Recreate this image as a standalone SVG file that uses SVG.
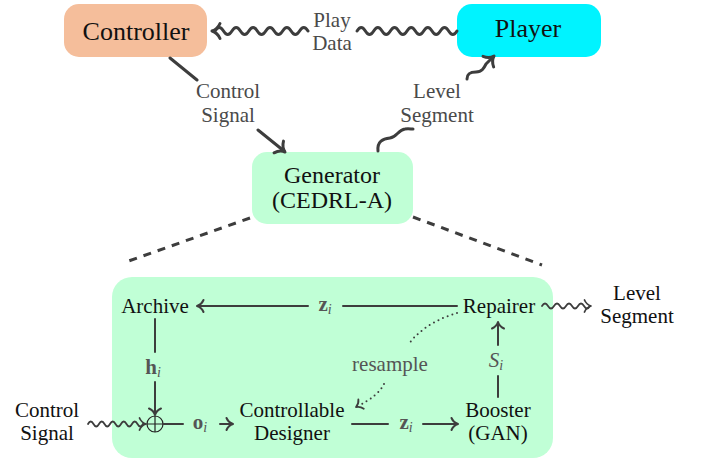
<svg xmlns="http://www.w3.org/2000/svg" width="705" height="460" viewBox="0 0 705 460" font-family="'Liberation Serif', 'DejaVu Serif', serif">
  <style>
    text { font-family: 'Liberation Serif', 'Times New Roman', 'DejaVu Serif', serif; text-anchor: middle; }
    .node { fill: #111111; font-size: 21px; }
    .big { font-size: 26px; }
    .gen { font-size: 24px; }
    .lbl { fill: #4a4a4a; font-size: 21px; }
    .math { fill: #555555; font-size: 21px; }
    .b { font-weight: bold; }
    .sub { font-style: italic; font-size: 14px; }
    .edge { fill: none; stroke: #3d3d3d; stroke-width: 3; stroke-linecap: round; stroke-linejoin: round; }
    .thin { fill: none; stroke: #3d3d3d; stroke-width: 2; stroke-linecap: round; stroke-linejoin: round; }
    .wave { fill: none; stroke: #3d3d3d; stroke-width: 1.8; stroke-linecap: round; }
    .dash { fill: none; stroke: #3d3d3d; stroke-width: 3; stroke-dasharray: 8 7; }
    .dot { fill: none; stroke: #3d3d3d; stroke-width: 2; stroke-linecap: round; stroke-dasharray: 0 5; }
    .mint { fill: #c0ffd6; }
  </style>
  <defs>
    <path id="ah" d="M-8,-7.5 C-6,-3 -2,-0.6 0,0 C-2,0.6 -6,3 -8,7.5" fill="none" stroke-linecap="round" stroke-linejoin="round"/>
    <path id="ahs" d="M-6.5,-6 C-5,-2.5 -1.5,-0.5 0,0 C-1.5,0.5 -5,2.5 -6.5,6" fill="none" stroke-linecap="round" stroke-linejoin="round"/>
  </defs>

  <!-- detail panel -->
  <g id="detail-panel">
    <rect class="mint" x="112" y="277" width="441" height="181" rx="20"/>
  </g>

  <g id="controller">
    <rect x="64" y="4" width="143" height="53" rx="15" fill="#f5be9b"/>
    <text class="node big" x="136" y="40">Controller</text>
  </g>
  <g id="player">
    <rect x="457" y="4" width="144" height="53" rx="15" fill="#00f3ff"/>
    <text class="node big" x="528" y="37">Player</text>
  </g>
  <g id="generator">
    <rect class="mint" x="252" y="152" width="161" height="72" rx="15"/>
    <text class="node gen" x="332" y="182.5">Generator</text>
    <text class="node gen" x="332" y="207.5">(CEDRL-A)</text>
  </g>

  <g id="archive"><text class="node" x="155" y="313">Archive</text></g>
  <g id="repairer"><text class="node" x="499" y="313">Repairer</text></g>
  <g id="oplus">
    <circle cx="155" cy="424" r="8" fill="none" stroke="#222" stroke-width="1.2"/>
    <path d="M147,424 H163 M155,416 V432" stroke="#222" stroke-width="1.2"/>
  </g>
  <g id="designer">
    <text class="node" x="292" y="417">Controllable</text>
    <text class="node" x="292" y="440">Designer</text>
  </g>
  <g id="booster">
    <text class="node" x="498" y="417">Booster</text>
    <text class="node" x="498" y="440">(GAN)</text>
  </g>
  <g id="control-signal-in">
    <text class="node" x="47" y="417">Control</text>
    <text class="node" x="47" y="440">Signal</text>
  </g>
  <g id="level-segment-out">
    <text class="node" x="637" y="300">Level</text>
    <text class="node" x="637" y="323">Segment</text>
  </g>

  <g id="connectors">
    <!-- Player -> Controller : Play Data -->
    <path class="edge" d="M457,31 q-4.17,7 -8.33,0 t-8.33,0 t-8.33,0 t-8.33,0 t-8.33,0 t-8.33,0 t-8.33,0 t-8.33,0 t-8.33,0 t-8.33,0 t-8.33,0 t-8.33,0"/>
    <path class="edge" d="M308,31 q-4.22,-7 -8.45,0 t-8.45,0 t-8.45,0 t-8.45,0 t-8.45,0 t-8.45,0 t-8.45,0 t-8.45,0 t-8.45,0 t-8.45,0 t-8.45,0"/>
    <use href="#ah" class="edge" transform="translate(212,31) rotate(180)"/>
    <text class="lbl" x="332" y="27">Play</text>
    <text class="lbl" x="332" y="50">Data</text>

    <!-- Controller -> Generator : Control Signal -->
    <path class="edge" d="M170,58 L197,80 M258,130 L284,151"/>
    <use href="#ah" class="edge" transform="translate(285,152) rotate(39)"/>
    <text class="lbl" x="228" y="98">Control</text>
    <text class="lbl" x="228" y="122">Signal</text>

    <!-- Generator -> Player : Level Segment -->
    <path class="edge" d="M378,151 C377,141 383,139 390,138 C397,137 398,130 405,129 C408,128.5 411,129 413,129"/>
    <path class="edge" d="M467,79 C467,73 471,72 476,72 C482,72 484,68 486,64 L493,57"/>
    <use href="#ah" class="edge" transform="translate(494,56) rotate(-45)"/>
    <text class="lbl" x="437" y="98">Level</text>
    <text class="lbl" x="437" y="122">Segment</text>

    <!-- zoom dashed lines -->
    <path class="dash" d="M250,218 L123,263"/>
    <path class="dash" d="M413,217 L542,265"/>

    <!-- Repairer -> Archive : z_i -->
    <path class="thin" d="M457,306 L343,306 M308,306 L198,306"/>
    <use href="#ahs" class="thin" transform="translate(197,306) rotate(180)"/>
    <text class="math" x="325" y="311"><tspan class="b">z</tspan><tspan class="sub" dy="3">i</tspan></text>

    <!-- Archive -> oplus : h_i -->
    <path class="thin" d="M155,319 L155,352 M155,382 L155,414"/>
    <use href="#ahs" class="thin" transform="translate(155,415) rotate(90)"/>
    <text class="math" x="153" y="374"><tspan class="b">h</tspan><tspan class="sub" dy="3">i</tspan></text>

    <!-- Control Signal -> oplus -->
    <path class="wave" d="M88,424 q2.75,-5 5.5,0 t5.5,0 t5.5,0 t5.5,0 t5.5,0 t5.5,0 t5.5,0 t5.5,0 t5.5,0 t5.5,0 l2.5,0"/>
    <use href="#ahs" class="wave" transform="translate(146,424)"/>

    <!-- oplus -> Designer : o_i -->
    <path class="thin" d="M163,424 L183,424 M220,424 L232,424"/>
    <use href="#ahs" class="thin" transform="translate(233,424)"/>
    <text class="math" x="200" y="429"><tspan class="b">o</tspan><tspan class="sub" dy="3">i</tspan></text>

    <!-- Designer -> Booster : z_i -->
    <path class="thin" d="M352,424 L388,424 M423,424 L457,424"/>
    <use href="#ahs" class="thin" transform="translate(458,424)"/>
    <text class="math" x="406" y="429"><tspan class="b">z</tspan><tspan class="sub" dy="3">i</tspan></text>

    <!-- Booster -> Repairer : S_i -->
    <path class="thin" d="M498,397 L498,376 M498,345 L498,323"/>
    <use href="#ahs" class="thin" transform="translate(498,322) rotate(-90)"/>
    <text class="math" x="496" y="367"><tspan font-style="italic">S</tspan><tspan class="sub" dy="3">i</tspan></text>

    <!-- Repairer -> Designer : resample (dotted) -->
    <path class="dot" d="M457,313 C440,318 420,328 408,345"/>
    <path class="dot" d="M384,384 C380,392 372,399 358,406"/>
    <use href="#ahs" class="thin" transform="translate(356,407) rotate(150) scale(0.9)"/>
    <text class="math" x="390" y="371">resample</text>

    <!-- Repairer -> Level Segment -->
    <path class="wave" d="M542,306 q3,-5 6,0 t6,0 t6,0 t6,0 t6,0 t6,0 t6,0 t6,0"/>
    <use href="#ahs" class="wave" transform="translate(591,306)"/>
  </g>
</svg>
